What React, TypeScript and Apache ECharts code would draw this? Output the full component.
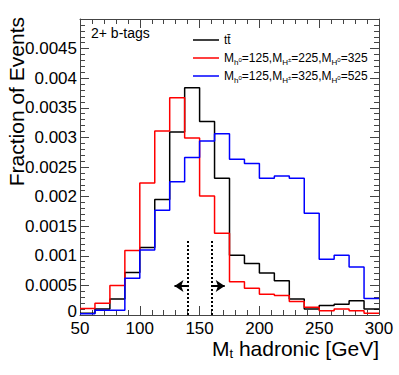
import React, { useEffect, useRef } from "react";
import * as echarts from "echarts";

const binEdges = [50, 62.5, 75, 87.5, 100, 112.5, 125, 137.5, 150, 162.5, 175, 187.5, 200, 212.5, 225, 237.5, 250, 262.5, 275, 287.5];
const binMax = 300;
const ttbar = [0.00003, 0.0001, 0.00027, 0.00072, 0.00114, 0.00195, 0.00309, 0.00384, 0.00327, 0.00231, 0.00101, 0.00087, 0.00071, 0.00058, 0.00027, 0.0001, 0.00016, 0.00018, 0.00024, 0.0001];
const sig225 = [0.00011, 0.0002, 0.0005, 0.00109, 0.00223, 0.00311, 0.00367, 0.00299, 0.00201, 0.00138, 0.00056, 0.00045, 0.00035, 0.00033, 0.00023, 0.00013, 0.00007, 0.0001, 0.00007, 0.00003];
const sig325 = [0.00002, 0.00008, 0.00008, 0.00062, 0.0011, 0.00177, 0.00225, 0.00266, 0.00294, 0.00306, 0.00263, 0.00256, 0.00231, 0.00235, 0.00231, 0.00172, 0.00094, 0.00101, 0.00081, 0.00028];
const cutLow = 140;
const cutHigh = 160;
const cutLineTop = 0.00127;
const arrowY = 0.00049;
const arrowLen = 11;

const FONT = "Liberation Sans, Arial, Helvetica, sans-serif";
const AXC = "#444";

function hist(vals: number[]) {
  const d: number[][] = binEdges.map((e, i) => [e, vals[i]]);
  d.push([binMax, vals[vals.length - 1]]);
  return d;
}

export default function App() {
  const ref = useRef<HTMLDivElement>(null);
  useEffect(() => {
    document.body.style.margin = "0";
    const chart = echarts.init(ref.current!, null, { renderer: "svg" });
    const grid = { left: 80, right: 20, top: 19, bottom: 60 };
    const tickCommon = {
      axisLine: { show: true, onZero: false, lineStyle: { color: AXC, width: 1 } },
      axisTick: { show: true, inside: true, length: 9, lineStyle: { color: AXC, width: 1 } },
      minorTick: { show: true, splitNumber: 5, length: 5, lineStyle: { color: AXC, width: 1 } },
      splitLine: { show: false },
      minorSplitLine: { show: false },
    };
    const xBase = { type: "value", min: 50, max: 300, interval: 50, ...tickCommon };
    const yBase = { type: "value", min: 0, max: 0.005, interval: 0.0005, ...tickCommon };
    const legendRich = {
      m: { fontSize: 12, lineHeight: 16, fontFamily: FONT, color: "#000", verticalAlign: "middle" },
      s: { fontSize: 8, lineHeight: 8, fontFamily: FONT, color: "#000", verticalAlign: "bottom" },
      p: { fontSize: 6, lineHeight: 6, fontFamily: FONT, color: "#000", verticalAlign: "bottom", padding: [0, 0, 3, 0] },
    };
    const legendItems = [
      { color: "#000", y: 40, text: "{m|tt\u0304}" },
      { color: "#ff0000", y: 58, text: "{m|M}{s|h}{p|0}{m|=125,M}{s|H}{p|\u00b1}{m|=225,M}{s|H}{p|0}{m|=325}" },
      { color: "#0000ff", y: 76, text: "{m|M}{s|h}{p|0}{m|=125,M}{s|H}{p|\u00b1}{m|=325,M}{s|H}{p|0}{m|=525}" },
    ];
    const graphics: any[] = [];
    legendItems.forEach((it) => {
      graphics.push({
        type: "line",
        shape: { x1: 193, y1: it.y, x2: 219, y2: it.y },
        style: { stroke: it.color, lineWidth: 1.5 },
        z: 100,
      });
      graphics.push({
        type: "text",
        x: 224,
        y: it.y,
        style: { text: it.text, rich: legendRich, textVerticalAlign: "middle", verticalAlign: "middle", fill: "#000" },
        z: 100,
      });
    });
    graphics.push({
      type: "text",
      x: 91,
      y: 33,
      style: { text: "2+ b-tags", font: `14px ${FONT}`, fill: "#000", verticalAlign: "middle" },
      z: 100,
    });
    graphics.push({
      type: "text",
      x: 16,
      y: 17,
      rotation: Math.PI / 2,
      style: { text: "Fraction of Events", font: `21px ${FONT}`, fill: "#000", align: "right", verticalAlign: "middle" },
      z: 100,
    });
    graphics.push({
      type: "text",
      x: 379,
      y: 348,
      style: {
        text: "{m|M}{s|t}{m| hadronic [GeV]}",
        rich: {
          m: { fontSize: 21, lineHeight: 24, fontFamily: FONT, color: "#000", verticalAlign: "middle" },
          s: { fontSize: 13, lineHeight: 13, fontFamily: FONT, color: "#000", verticalAlign: "bottom" },
        },
        align: "right",
        verticalAlign: "middle",
      },
      z: 100,
    });

    const lineSeries = (name: string, vals: number[], color: string, extra: any = {}) => ({
      name,
      type: "line",
      step: "end",
      data: hist(vals),
      symbol: "none",
      lineStyle: { color, width: 1.5 },
      itemStyle: { color },
      xAxisIndex: 0,
      yAxisIndex: 0,
      ...extra,
    });

    const dotted = { color: "#000", width: 2, type: [2, 2] };
    const solid = { color: "#000", width: 2, type: "solid" };

    chart.setOption({
      animation: false,
      grid,
      xAxis: [
        {
          ...xBase,
          position: "bottom",
          axisLabel: { show: true, fontSize: 17, color: "#000", fontFamily: FONT, margin: 5 },
        },
        { ...xBase, position: "top", axisLabel: { show: false } },
      ],
      yAxis: [
        {
          ...yBase,
          position: "left",
          axisLabel: {
            show: true,
            fontSize: 17,
            color: "#000",
            fontFamily: FONT,
            margin: 3,
            showMaxLabel: false,
            formatter: (v: number) => (v === 0 ? "{z|0}" : String(parseFloat(v.toFixed(5)))),
            rich: {
              z: { fontSize: 17, color: "#000", fontFamily: FONT, lineHeight: 12, padding: [0, 0, 8, 0] },
            },
          },
        },
        { ...yBase, position: "right", axisLabel: { show: false } },
      ],
      graphic: graphics,
      series: [
        lineSeries("ttbar", ttbar, "#000", {
          markLine: {
            silent: true,
            animation: false,
            label: { show: false },
            symbol: ["none", "none"],
            data: [
              [
                { coord: [cutLow, 0], lineStyle: dotted, symbol: "none" },
                { coord: [cutLow, cutLineTop], symbol: "none" },
              ],
              [
                { coord: [cutHigh, 0], lineStyle: dotted, symbol: "none" },
                { coord: [cutHigh, cutLineTop], symbol: "none" },
              ],
              [
                { coord: [cutLow, arrowY], lineStyle: solid, symbol: "none" },
                { coord: [cutLow - arrowLen, arrowY], symbol: "arrow", symbolSize: [9, 9] },
              ],
              [
                { coord: [cutHigh, arrowY], lineStyle: solid, symbol: "none" },
                { coord: [cutHigh + arrowLen, arrowY], symbol: "arrow", symbolSize: [9, 9] },
              ],
            ],
          },
        }),
        lineSeries("sig225", sig225, "#ff0000"),
        lineSeries("sig325", sig325, "#0000ff"),
      ],
    });
    return () => chart.dispose();
  }, []);
  return <div ref={ref} style={{ width: 399, height: 375 }} />;
}
